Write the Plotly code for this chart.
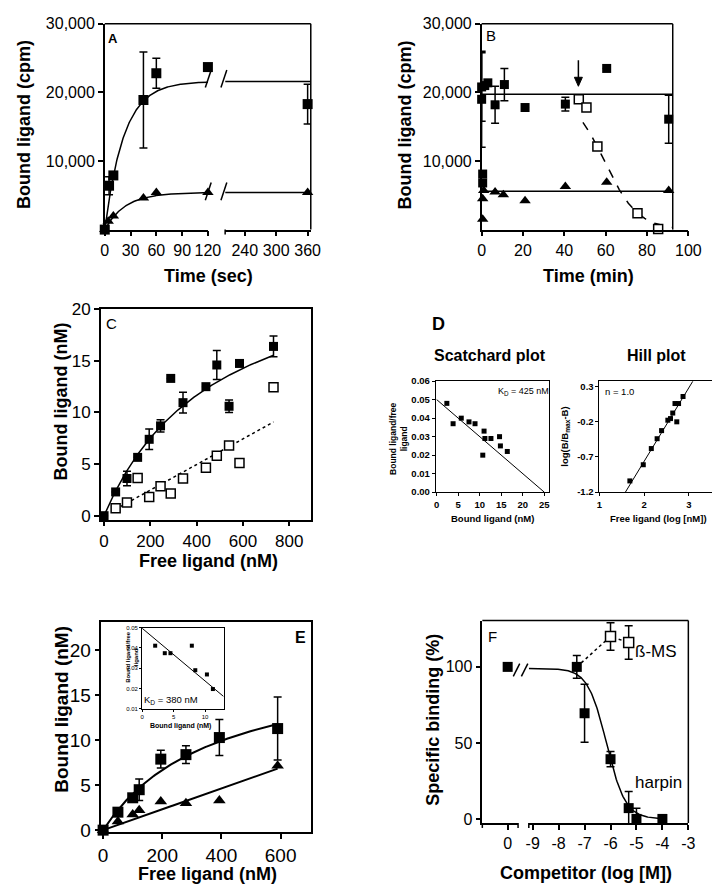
import numpy as np
import plotly.graph_objects as go

W, H = 720, 888
FONT = "Liberation Sans, Arial, sans-serif"

# ---------------- Panel A: association (sec) ----------------
a_total_t = [0, 5, 10, 45, 60, 120, 360]
a_total_cpm = [0, 6400, 7900, 18900, 22800, 23700, 18300]
a_total_err = [0, 1300, 0, 7000, 2200, 0, 2900]
a_nonspec_t = [0, 4, 10, 45, 60, 120, 360]
a_nonspec_cpm = [0, 1200, 2000, 4600, 5400, 5400, 5400]
a_fit_total = (21600, 0.045)     # plateau, rate constant
a_fit_nonspec = (5400, 0.042)
a_ticks_left = [0, 30, 60, 90, 120]
a_ticks_right = [240, 300, 360]
cpm_ticks = [10000, 20000, 30000]
cpm_labels = ["10,000", "20,000", "30,000"]

# ---------------- Panel B: time course (min) ----------------
b_total_t = [0, 0, 0.5, 0.5, 1.5, 3, 6.5, 11, 21, 40.5, 60.5, 90.5]
b_total_cpm = [19000, 20800, 8100, 6800, 21000, 21400, 18200, 21150, 17800, 18300, 23500, 16100]
b_total_err = [7000, 5000, 0, 0, 0, 0, 2700, 2350, 0, 1000, 0, 3500]
b_nonspec_t = [0.5, 0.5, 1, 6.5, 10.5, 21, 40.5, 60.5, 90.5]
b_nonspec_cpm = [1500, 4500, 5700, 5500, 5100, 4200, 6300, 6900, 5700]
b_chase_t = [47, 50.7, 56, 75.4, 85.4]
b_chase_cpm = [19000, 17800, 12100, 2400, 100]
b_total_mean = 19750
b_nonspec_mean = 5600
b_chase_fit = (19800, 59.6, 8.0)   # top, t50, slope
b_chase_added = 46.8
b_ticks = [0, 20, 40, 60, 80, 100]

# ---------------- Panel C: saturation ----------------
c_free = [0, 50, 99, 145, 195, 244, 288, 341, 440, 487, 540, 585, 732]
c_total = [0, 2.3, 3.6, 5.65, 7.4, 8.7, 13.3, 10.95, 12.5, 14.6, 10.6, 14.75, 16.4]
c_total_err = [0, 0, 0.7, 0, 1.0, 0.6, 0, 1.0, 0, 1.4, 0.6, 0, 1.0]
c_free_ns = [50, 99, 145, 195, 244, 288, 341, 440, 487, 540, 585, 732]
c_nonspec = [0.73, 1.27, 3.65, 1.8, 2.85, 2.15, 3.6, 4.65, 5.8, 6.8, 5.1, 12.45]
c_fit_total = (25.9, 488)   # Bmax, Kd
c_fit_ns_slope = 0.0124
c_xticks = [0, 200, 400, 600, 800]
c_yticks = [0, 5, 10, 15, 20]

# ---------------- Panel D: Scatchard & Hill ----------------
sc_bound = [2.35, 3.8, 5.7, 7.5, 8.9, 11.0, 11.2, 12.6, 10.7, 14.6, 14.8, 16.4]
sc_ratio = [0.048, 0.037, 0.040, 0.038, 0.037, 0.033, 0.029, 0.029, 0.020, 0.030, 0.025, 0.022]
sc_fit = (0.050, 25.0)     # y-intercept, x-intercept
hill_logfree = [1.68, 1.98, 2.16, 2.29, 2.39, 2.53, 2.59, 2.64, 2.69, 2.77, 2.73, 2.87]
hill_val = [-1.04, -0.81, -0.58, -0.44, -0.325, -0.177, -0.154, -0.075, 0.06, 0.06, -0.2, 0.16]
hill_fit = (1.045, 2.728, 1.58, 3.09)   # slope, x at y=0, x start, x end

# ---------------- Panel E ----------------
e_free = [0, 50, 100, 122, 195, 280, 393, 590]
e_total = [0, 2.0, 3.6, 4.5, 7.9, 8.4, 10.3, 11.3]
e_total_err = [0, 0, 0, 1.2, 1.0, 1.0, 2.0, 3.5]
e_other = [0, 0.95, 1.75, 2.2, 3.2, 3.0, 3.3, 7.15]
e_fit_total = (19.4, 380)
e_fit_other_slope = 0.0116
e_xticks = [0, 200, 400, 600]
e_yticks = [0, 5, 10, 15, 20]
ins_bound = [2.07, 3.6, 4.5, 7.9, 8.45, 10.3, 11.25]
ins_ratio = [0.0411, 0.0374, 0.0374, 0.0411, 0.0290, 0.0269, 0.0197]
ins_fit = (0.0497, -0.0026, 12.95)

# ---------------- Panel F: competition ----------------
f_ctrl_x = [0]
f_ctrl_y = [100]
f_harpin_log = [-7.3, -7.0, -6.0, -5.3, -5.0, -4.0]
f_harpin = [100, 69.5, 39.3, 7.1, 0, 0]
f_harpin_err = [7.5, 19, 5, 11, 7, 0]
f_bms_log = [-6.0, -5.3]
f_bms = [120, 116]
f_bms_err = [9, 11]
f_fit = (99, -6.15, 1.2)   # top, logIC50, hill slope
f_right_ticks = [-9, -8, -7, -6, -5, -4, -3]

fig = go.Figure()


def pts(x, y, xa, ya, symbol="square", size=10, open_=False, err=None):
    marker = dict(symbol=symbol, size=size, color="white" if open_ else "black",
                  line=dict(color="black", width=1.5 if open_ else 0))
    kw = {}
    if err is not None:
        kw["error_y"] = dict(type="data", array=err, visible=True, color="black",
                             thickness=1.5, width=4)
    fig.add_trace(go.Scatter(x=x, y=y, xaxis=xa, yaxis=ya, mode="markers", marker=marker,
                             cliponaxis=False, showlegend=False, hoverinfo="skip", **kw))


def line(x, y, xa, ya, dash="solid", width=1.5):
    fig.add_trace(go.Scatter(x=x, y=y, xaxis=xa, yaxis=ya, mode="lines",
                             line=dict(color="black", width=width, dash=dash),
                             showlegend=False, hoverinfo="skip", cliponaxis=False))


def sub(lst, idx):
    return [lst[i] for i in idx]


# ---- A ----
A_RIGHT_START = 202.5
tl = np.linspace(0, 120, 200)
tr_ = np.linspace(A_RIGHT_START, 366, 20)
for P, k in (a_fit_total, a_fit_nonspec):
    line(tl, P * (1 - np.exp(-k * tl)), "x", "y")
    line(tr_, P * (1 - np.exp(-k * tr_)), "x2", "y")
iL = [i for i, t in enumerate(a_total_t) if t <= 120]
iR = [i for i, t in enumerate(a_total_t) if t > 120]
pts(sub(a_nonspec_t, iL), sub(a_nonspec_cpm, iL), "x", "y", "triangle-up", 10)
pts(sub(a_nonspec_t, iR), sub(a_nonspec_cpm, iR), "x2", "y", "triangle-up", 10)
pts(sub(a_total_t, iL), sub(a_total_cpm, iL), "x", "y", "square", 10, err=sub(a_total_err, iL))
pts(sub(a_total_t, iR), sub(a_total_cpm, iR), "x2", "y", "square", 10, err=sub(a_total_err, iR))

# ---- B ----
line([0, 92.5], [b_total_mean, b_total_mean], "x3", "y3")
line([0, 92.5], [b_nonspec_mean, b_nonspec_mean], "x3", "y3")
tb = np.linspace(49, 92.5, 100)
top, t50, s = b_chase_fit
line(tb, top / (1 + np.exp((tb - t50) / s)), "x3", "y3", dash="dash")
pts(b_nonspec_t, b_nonspec_cpm, "x3", "y3", "triangle-up", 10)
pts(b_total_t, b_total_cpm, "x3", "y3", "square", 9, err=b_total_err)
pts(b_chase_t, b_chase_cpm, "x3", "y3", "square", 9, open_=True)

# ---- C ----
xc = np.linspace(0, 732, 200)
line(xc, c_fit_total[0] * xc / (c_fit_total[1] + xc), "x4", "y4")
xcn = np.linspace(50, 732, 2)
line(xcn, c_fit_ns_slope * xcn, "x4", "y4", dash="dot")
pts(c_free_ns, c_nonspec, "x4", "y4", "square", 9, open_=True)
pts(c_free, c_total, "x4", "y4", "square", 9, err=c_total_err)

# ---- D ----
xs = np.linspace(0, sc_fit[1], 2)
line(xs, sc_fit[0] * (1 - xs / sc_fit[1]), "x5", "y5", width=1)
pts(sc_bound, sc_ratio, "x5", "y5", "square", 5)
xh = np.linspace(hill_fit[2], hill_fit[3], 2)
line(xh, hill_fit[0] * (xh - hill_fit[1]), "x6", "y6", width=1)
pts(hill_logfree, hill_val, "x6", "y6", "square", 5)

# ---- E ----
xe = np.linspace(0, 590, 200)
line(xe, e_fit_total[0] * xe / (e_fit_total[1] + xe), "x7", "y7", width=2)
line(xe, e_fit_other_slope * xe, "x7", "y7", width=2)
pts(e_free, e_other, "x7", "y7", "triangle-up", 11)
pts(e_free, e_total, "x7", "y7", "square", 11, err=e_total_err)
xi = np.linspace(0, ins_fit[2], 2)
line(xi, ins_fit[0] + ins_fit[1] * xi, "x8", "y8", width=1)
pts(ins_bound, ins_ratio, "x8", "y8", "square", 4)

# ---- F ----
xf = np.linspace(-9.15, -3.95, 200)
ftop, fic, fh = f_fit
line(xf, ftop / (1 + 10 ** ((xf - fic) * fh)), "x10", "y9")
line([f_harpin_log[0]] + f_bms_log, [f_harpin[0]] + f_bms, "x10", "y9", dash="dot")
pts(f_ctrl_x, f_ctrl_y, "x9", "y9", "square", 10)
pts(f_harpin_log, f_harpin, "x10", "y9", "square", 10, err=f_harpin_err)
pts(f_bms_log, f_bms, "x10", "y9", "square", 10, open_=True, err=f_bms_err)


# ---------------- layout ----------------
def dx(a, b):
    return [a / W, b / W]


def dy(top, bottom):
    return [1 - bottom / H, 1 - top / H]


def ax(size=16, bold=False, lw=1.5, tl=5, **kw):
    base = dict(showline=True, linecolor="black", linewidth=lw, ticks="outside",
                ticklen=tl, tickwidth=lw, tickcolor="black", showgrid=False,
                zeroline=False, fixedrange=True,
                tickfont=dict(family=FONT, size=size, color="black",
                              weight="bold" if bold else "normal"))
    base.update(kw)
    return base


layout = dict(
    width=W, height=H, margin=dict(l=0, r=0, t=0, b=0),
    paper_bgcolor="white", plot_bgcolor="white", showlegend=False,
    font=dict(family=FONT, color="black"),
    # A
    xaxis=ax(domain=dx(95, 201), range=[0, 120.4], anchor="y", tickvals=a_ticks_left),
    xaxis2=ax(domain=dx(218.3, 306), range=[A_RIGHT_START, 366], anchor="y", tickvals=a_ticks_right),
    yaxis=ax(domain=dy(7, 217), range=[0, 30000], anchor="x", tickvals=cpm_ticks, ticktext=cpm_labels),
    # B
    xaxis3=ax(domain=dx(481, 692.7), range=[0, 100], anchor="y3", tickvals=b_ticks),
    yaxis3=ax(domain=dy(7, 217), range=[0, 30000], anchor="x3", tickvals=cpm_ticks, ticktext=cpm_labels),
    # C
    xaxis4=ax(size=17, domain=dx(91, 306), range=[-13.9, 893], anchor="y4", tickvals=c_xticks, mirror=True),
    yaxis4=ax(size=17, domain=dy(298.3, 513), range=[-0.38, 20], anchor="x4", tickvals=c_yticks, mirror=True),
    # D scatchard
    xaxis5=ax(size=9.5, bold=True, lw=1, tl=3, domain=dx(434, 550), range=[-0.23, 26.1], anchor="y5",
              tickvals=[0, 5, 10, 15, 20, 25], mirror=True),
    yaxis5=ax(size=9.5, bold=True, lw=1, tl=3, domain=dy(371.7, 485), range=[0, 0.06], anchor="x5",
              tickvals=[0, 0.01, 0.02, 0.03, 0.04, 0.05, 0.06], tickformat=".2f", mirror=True),
    # D hill
    xaxis6=ax(size=9.5, bold=True, lw=1, tl=3, domain=dx(601.7, 717), range=[1, 3.52], anchor="y6",
              tickvals=[1, 2, 3], mirror=True),
    yaxis6=ax(size=9.5, bold=True, lw=1, tl=3, domain=dy(371.7, 485), range=[-1.2, 0.378], anchor="x6",
              tickvals=[-1.2, -0.7, -0.2, 0.3], ticktext=["-1.2", "-0.7", "-0.2", "0.3"], mirror=True),
    # E
    xaxis7=ax(size=19, domain=dx(91.5, 306), range=[-6, 702], anchor="y7", tickvals=e_xticks, mirror=True),
    yaxis7=ax(size=19, domain=dy(618, 832), range=[-0.22, 23.1], anchor="x7", tickvals=e_yticks, mirror=True),
    # E inset
    xaxis8=ax(size=6, lw=1, tl=2, domain=dx(133.3, 216.7), range=[0, 12.95], anchor="y8",
              tickvals=[0, 5, 10], mirror=True),
    yaxis8=ax(size=6, lw=1, tl=2, domain=dy(623.3, 706), range=[0.01, 0.05], anchor="x8",
              tickvals=[0.01, 0.02, 0.03, 0.04, 0.05], tickformat=".2f", mirror=True),
    # F
    xaxis9=ax(domain=dx(481.7, 518.3), range=[-0.975, 0.4], anchor="y9",
              tickvals=[0], ticktext=["0"]),
    xaxis10=ax(domain=dx(529.3, 692.7), range=[-9.15, -3], anchor="y9",
               tickvals=f_right_ticks, ticktext=[str(v) for v in f_right_ticks]),
    yaxis9=ax(domain=dy(616, 822.7), range=[-2.7, 130.5], anchor="x9", tickvals=[0, 50, 100]),
)


def seg(x0, y0, x1, y1, w=1.5):
    return dict(type="line", xref="paper", yref="paper", x0=x0 / W, y0=1 - y0 / H,
                x1=x1 / W, y1=1 - y1 / H, line=dict(color="black", width=w))


shapes = [
    # frames A, B, F (top & right)
    seg(95, 7, 306, 7), seg(306, 7, 306, 217),
    seg(481, 7, 676.7, 7), seg(676.7, 7, 676.7, 217),
    seg(481.7, 616, 692.7, 616), seg(692.7, 616, 692.7, 822.7),
    # end ticks at the axis breaks
    seg(218.3, 217, 218.3, 222),
    seg(481.7, 822.7, 481.7, 827.7), seg(518.3, 822.7, 518.3, 827.7),
    seg(529.3, 822.7, 529.3, 827.7),
]
# break marks in A
for cy in (63, 178):
    for cx in (201, 217):
        shapes.append(seg(cx - 3, cy + 9, cx + 3, cy - 9))
# break marks in F
for cx in (516.7, 525):
    shapes.append(seg(cx - 3.3, 673, cx + 3.3, 660))
# arrow marking the chase in B (shaft + head, sized in pixels)
shapes.append(dict(type="line", xref="x3", yref="y3", xsizemode="pixel", ysizemode="pixel",
                   xanchor=b_chase_added, yanchor=20900, x0=0, x1=0, y0=4, y1=26,
                   line=dict(color="black", width=1.5)))
shapes.append(dict(type="path", xref="x3", yref="y3", xsizemode="pixel", ysizemode="pixel",
                   xanchor=b_chase_added, yanchor=20900, path="M -4,9 L 4,9 L 0,0 Z",
                   fillcolor="black", line=dict(color="black", width=1)))
layout["shapes"] = shapes


def ann(text, x, y, size, bold=False, angle=0, xanchor="center"):
    return dict(text=f"<b>{text}</b>" if bold else text, xref="paper", yref="paper",
                x=x / W, y=1 - y / H, xanchor=xanchor, yanchor="middle", showarrow=False,
                textangle=angle, font=dict(family=FONT, size=size, color="black"))


annots = [
    ann("A", 103.3, 21.7, 13, bold=True),
    ann("B", 490.7, 19.3, 15),
    ann("C", 102, 312.7, 15),
    ann("D", 436.7, 313.7, 18, bold=True),
    ann("E", 295, 633.7, 16, bold=True),
    ann("F", 491.7, 632, 15),
    ann("Bound ligand (cpm)", 12.5, 110, 18, bold=True, angle=-90),
    ann("Time (sec)", 201.7, 264, 18, bold=True),
    ann("Bound ligand (cpm)", 402.3, 110, 18, bold=True, angle=-90),
    ann("Time (min)", 590, 264, 18, bold=True),
    ann("Bound ligand (nM)", 50.7, 393, 18, bold=True, angle=-90),
    ann("Free ligand (nM)", 201.7, 555, 18, bold=True),
    ann("Scatchard plot", 490, 346, 16, bold=True),
    ann("Hill plot", 660, 346, 16, bold=True),
    ann("Bound ligand/free<br>ligand", 396, 430, 8.5, bold=True, angle=-90),
    ann("Bound ligand (nM)", 491.7, 511.7, 9.5, bold=True),
    ann("log(B/B<sub>max</sub>-B)", 566.7, 428, 9.5, bold=True, angle=-90),
    ann("Free ligand (log [nM])", 661.7, 511.7, 9.5, bold=True),
    ann("K<sub>D</sub> = 425 nM", 524.3, 382.7, 9),
    ann("n = 1.0", 622.3, 382.3, 9.5),
    ann("Bound ligand (nM)", 51.3, 707, 19, bold=True, angle=-90),
    ann("Free ligand (nM)", 200, 875, 18, bold=True),
    ann("Bound ligand/free<br>ligand", 123, 653, 6, bold=True, angle=-90),
    ann("Bound ligand (nM)", 172.7, 724, 7, bold=True),
    ann("K<sub>D</sub> = 380 nM", 163.3, 697.3, 9.5),
    ann("Specific binding (%)", 431, 717.5, 18, bold=True, angle=-90),
    ann("Competitor (log [M])", 588.3, 873.3, 18, bold=True),
    ann("ß-MS", 660, 648, 17),
    ann("harpin", 661.7, 781.7, 17),
]
layout["annotations"] = annots

fig.update_layout(**layout)
fig.write_html("out.html")
